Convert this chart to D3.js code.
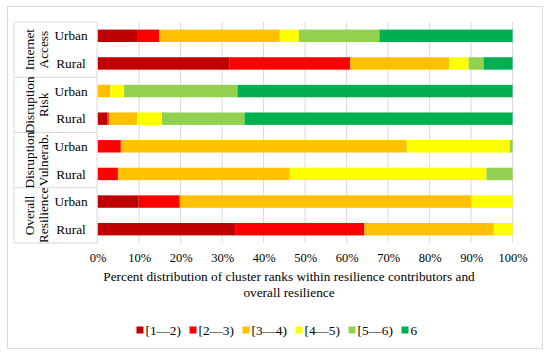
<!DOCTYPE html>
<html>
<head>
<meta charset="utf-8">
<script src="https://cdn.jsdelivr.net/npm/d3@7"></script>
<style>
  body { margin: 0; background: #fff; }
</style>
</head>
<body>
<div id="chart"></div>
<script>
// groups (top to bottom) and the two rows inside each
const groups = [["Internet", "Access"], ["Disruption", "Risk"], ["Disruption", "Vulnerab."], ["Overall", "Resilience"]];
const rows = ["Urban", "Rural"];
const ranks = ["[1\u20142)", "[2\u20143)", "[3\u20144)", "[4\u20145)", "[5\u20146)", "6"];
const colors = ["#C00000", "#FF0000", "#FFC000", "#FFFF00", "#92D050", "#00B050"];
const ticks = [0, 0.1, 0.2, 0.3, 0.4, 0.5, 0.6, 0.7, 0.8, 0.9, 1];

// percent shares per row, in rank order
const internetUrban = [9.5, 5.3, 29.1, 4.6, 19.4, 32.1];
const internetRural = [31.7, 29.2, 23.8, 4.7, 3.6, 7.0];
const riskUrban = [0, 0, 3.1, 3.3, 27.3, 66.3];
const riskRural = [2.4, 0.3, 6.8, 6.0, 19.9, 64.6];
const vulnUrban = [0, 5.6, 68.9, 24.8, 0.7, 0];
const vulnRural = [0, 4.9, 41.4, 47.4, 6.3, 0];
const overallUrban = [9.9, 9.9, 70.3, 9.9, 0, 0];
const overallRural = [33.3, 31.0, 31.2, 4.5, 0, 0];

const series = [internetUrban, internetRural, riskUrban, riskRural, vulnUrban, vulnRural, overallUrban, overallRural];

const data = series.map((vals, i) => {
  const row = { key: i };
  ranks.forEach((r, j) => (row[r] = vals[j] / 100));
  return row;
});

const FONT = "'Liberation Serif', 'Tinos', 'Times New Roman', 'DejaVu Serif', serif";
const width = 550, height = 355;
const svg = d3.select("#chart").append("svg")
  .attr("width", width).attr("height", height)
  .attr("font-family", FONT);

// outer frame
svg.append("rect")
  .attr("x", 7.5).attr("y", 6.5).attr("width", 535).attr("height", 342)
  .attr("fill", "#fff").attr("stroke", "#d9d9d9");

const plot = { left: 97.6, right: 512.6, top: 22, bottom: 243 };

const x = d3.scaleLinear().domain([0, 1]).range([plot.left, plot.right]);
const y = d3.scaleBand().domain(d3.range(series.length)).range([plot.top, plot.bottom]).paddingInner(0.55).paddingOuter(0.275);

// gridlines
svg.append("g").selectAll("line").data(ticks.slice(1)).join("line")
  .attr("x1", d => x(d)).attr("x2", d => x(d))
  .attr("y1", plot.top).attr("y2", plot.bottom)
  .attr("stroke", "#d9d9d9").attr("stroke-width", 1);

// stacked bars
const stack = d3.stack().keys(ranks)(data);
svg.append("g").selectAll("g").data(stack).join("g")
  .attr("fill", (d, i) => colors[i])
  .selectAll("rect").data(d => d).join("rect")
  .attr("x", d => x(d[0]))
  .attr("y", d => y(d.data.key))
  .attr("width", d => Math.max(0, x(d[1]) - x(d[0])))
  .attr("height", y.bandwidth());

// category table on the left
const table = svg.append("g").attr("stroke", "#d9d9d9").attr("fill", "none");
const groupH = (plot.bottom - plot.top) / groups.length;
table.append("line").attr("x1", 14).attr("x2", 14).attr("y1", plot.top).attr("y2", plot.bottom);
table.append("line").attr("x1", plot.left - 0.5).attr("x2", plot.left - 0.5).attr("y1", plot.top).attr("y2", plot.bottom);
table.selectAll("line.h").data(d3.range(groups.length + 1)).join("line")
  .attr("class", "h")
  .attr("x1", 14).attr("x2", plot.left)
  .attr("y1", d => plot.top + d * groupH).attr("y2", d => plot.top + d * groupH);

groups.forEach((g, i) => {
  const cy = plot.top + (i + 0.5) * groupH;
  const t = svg.append("text")
    .attr("transform", `translate(36,${cy}) rotate(-90)`)
    .attr("text-anchor", "middle")
    .attr("font-size", 13.3);
  t.append("tspan").attr("x", 0).attr("dy", "-0.12em").text(g[0]);
  t.append("tspan").attr("x", 0).attr("dy", "1.0em").text(g[1]);
});

svg.append("g").selectAll("text").data(data).join("text")
  .attr("x", 71)
  .attr("y", d => y(d.key) + y.bandwidth() / 2)
  .attr("dy", "0.35em")
  .attr("text-anchor", "middle")
  .attr("font-size", 13.3)
  .text(d => rows[d.key % 2]);

// x axis labels
const xAxis = svg.append("g")
  .attr("transform", `translate(0,${plot.bottom})`)
  .call(d3.axisBottom(x).tickValues(ticks).tickFormat(d3.format(".0%")).tickSize(0).tickPadding(10))
  .attr("font-family", FONT).attr("font-size", 12.5);
xAxis.select(".domain").remove();
xAxis.selectAll("text").attr("fill", "#000");

// axis title
const title = svg.append("text").attr("text-anchor", "middle").attr("font-size", 13.3);
title.append("tspan").attr("x", 289).attr("y", 281).text("Percent distribution of cluster ranks within resilience contributors and");
title.append("tspan").attr("x", 289).attr("y", 297).text("overall resilience");

// legend
const legendX = [136.5, 189.5, 242.5, 295.5, 348.5, 401.5];
const legend = svg.append("g").selectAll("g").data(ranks).join("g")
  .attr("transform", (d, i) => `translate(${legendX[i]},330)`);
legend.append("rect").attr("x", 0).attr("y", -3.5).attr("width", 7).attr("height", 7).attr("fill", (d, i) => colors[i]);
legend.append("text").attr("x", 9).attr("dy", "0.35em").attr("font-size", 13.3).text(d => d);
</script>
</body>
</html>
